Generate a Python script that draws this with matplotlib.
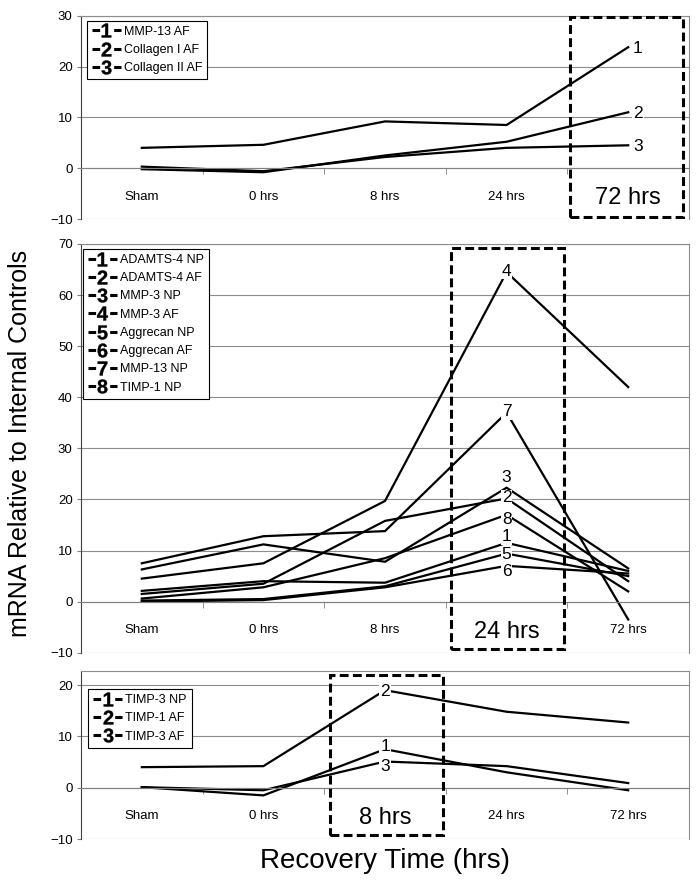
import matplotlib.pyplot as plt
from matplotlib.lines import Line2D
from matplotlib.patches import Rectangle

plt.rcParams['font.family'] = ['Liberation Sans', 'DejaVu Sans']
plt.rcParams['mathtext.fontset'] = 'custom'
plt.rcParams['mathtext.rm'] = 'Liberation Sans'
plt.rcParams['mathtext.bf'] = 'Liberation Sans:bold'

# categories on the x axis
categories = ['Sham', '0 hrs', '8 hrs', '24 hrs', '72 hrs']

# top panel
top_names = ['MMP-13 AF', 'Collagen I AF', 'Collagen II AF']
top_mmp13_af = [4.0, 4.6, 9.2, 8.5, 23.8]
top_col1_af = [-0.2, -0.8, 2.5, 5.2, 11.0]
top_col2_af = [0.3, -0.6, 2.2, 4.0, 4.5]

# middle panel
mid_names = ['ADAMTS-4 NP', 'ADAMTS-4 AF', 'MMP-3 NP', 'MMP-3 AF',
             'Aggrecan NP', 'Aggrecan AF', 'MMP-13 NP', 'TIMP-1 NP']
mid_adamts4_np = [2.1, 4.0, 3.7, 11.5, 6.0]
mid_adamts4_af = [1.5, 3.5, 15.8, 20.2, 4.0]
mid_mmp3_np = [6.3, 11.2, 7.8, 22.3, 6.5]
mid_mmp3_af = [4.5, 7.5, 19.7, 64.5, 42.0]
mid_aggrecan_np = [0.2, 0.5, 3.0, 9.4, 5.0]
mid_aggrecan_af = [0.0, 0.3, 2.8, 7.0, 5.5]
mid_mmp13_np = [7.5, 12.8, 13.8, 37.0, -3.5]
mid_timp1_np = [0.6, 2.8, 8.5, 17.0, 2.0]

# bottom panel
bot_names = ['TIMP-3 NP', 'TIMP-1 AF', 'TIMP-3 AF']
bot_timp3_np = [0.1, -1.5, 7.5, 3.0, -0.5]
bot_timp1_af = [4.0, 4.2, 19.0, 14.8, 12.7]
bot_timp3_af = [0.1, -0.5, 5.1, 4.2, 0.9]

W, H = 698, 881
fig = plt.figure(figsize=(W / 100, H / 100), dpi=100)

left = 81 / W
width = (689 - 81) / W


def px_axes(top_px, bottom_px):
    return fig.add_axes([left, 1 - bottom_px / H, width, (bottom_px - top_px) / H])


def handle(n):
    return Line2D([], [], color='black', lw=2.2, linestyle=(0, (2.5, 4.6)),
                  marker=r'$\mathbf{%d}$' % n, markersize=10,
                  markerfacecolor='black', markeredgecolor='black', markeredgewidth=0.3)


def panel(ax, series, names, ylim, box, focus, lab_at, lab_dx, lab_dy, leg_anchor):
    ax.set_xlim(-0.5, 4.5)
    ax.set_ylim(*ylim)
    ax.set_yticks(range(-10, int(ylim[1]) + 1, 10))
    ax.set_axisbelow(True)
    ax.grid(axis='y', color='#8c8c8c', lw=0.8)
    for s in ['top', 'right']:
        ax.spines[s].set_color('#8c8c8c')
    ax.spines['left'].set_color('#404040')
    ax.spines['bottom'].set_position(('data', 0))
    ax.spines['bottom'].set_color('#808080')
    ax.set_xticks(range(5))
    ax.set_xticklabels([])
    ax.tick_params(axis='x', which='major', length=0)
    ax.set_xticks([-0.5, 0.5, 1.5, 2.5, 3.5, 4.5], minor=True)
    ax.tick_params(axis='x', which='minor', length=4, color='#808080', direction='out')
    ax.tick_params(axis='y', length=3, color='#808080', labelsize=9.5, pad=3)

    x = list(range(len(categories)))
    for vals in series:
        ax.plot(x, vals, color='black', lw=1.6, solid_joinstyle='miter')

    for i, c in enumerate(categories):
        if i == focus:
            ax.text(i, -5.9, c, ha='center', va='center', fontsize=17)
        else:
            ax.text(i, -5.6, c, ha='center', va='center', fontsize=9.5)

    for k, vals in enumerate(series):
        ax.text(lab_at + lab_dx, vals[lab_at] + lab_dy[k], str(k + 1), ha='center', va='center',
                fontsize=12.5, zorder=5,
                bbox=dict(boxstyle='square,pad=0.05', fc='white', ec='none'))

    ax.add_patch(Rectangle((box[0], box[2]), box[1] - box[0], box[3] - box[2], fill=False,
                           ec='black', lw=2.2, linestyle=(0, (2.9, 1.4)), zorder=6))

    leg = ax.legend([handle(k + 1) for k in range(len(names))], names, loc='upper left',
                    bbox_to_anchor=leg_anchor, borderaxespad=0, fontsize=9,
                    handlelength=2.3, handletextpad=0.25, labelspacing=0.5,
                    borderpad=0.4, fancybox=False, framealpha=1, edgecolor='black')
    leg.get_frame().set_linewidth(0.8)
    leg.set_zorder(7)


ax1 = px_axes(15.7, 219)
panel(ax1, [top_mmp13_af, top_col1_af, top_col2_af], top_names, (-10, 30),
      (3.52, 4.45, -9.7, 29.7), 4, 4, 0.08, [-0.2, -0.2, -0.3], (0.0095, 0.975))

ax2 = px_axes(244, 652.7)
panel(ax2, [mid_adamts4_np, mid_adamts4_af, mid_mmp3_np, mid_mmp3_af,
            mid_aggrecan_np, mid_aggrecan_af, mid_mmp13_np, mid_timp1_np], mid_names, (-10, 70),
      (2.54, 3.47, -9.35, 69.15), 3, 3, 0.0, [1.2, 0.1, 1.9, 0.2, -0.1, -1.1, 0.2, -0.9],
      (0.003, 0.988))

ax3 = px_axes(670.7, 839)
panel(ax3, [bot_timp3_np, bot_timp1_af, bot_timp3_af], bot_names, (-10, 22.8),
      (1.55, 2.48, -9.2, 21.95), 2, 2, 0.0, [0.6, -0.2, -0.9], (0.012, 0.89))

fig.text(0.029, 1 - 443 / H, 'mRNA Relative to Internal Controls', rotation=90,
         ha='center', va='center', fontsize=18)
fig.text(left + width / 2, 1 - 861 / H, 'Recovery Time (hrs)', ha='center', va='center',
         fontsize=20)

fig.savefig('out.png', dpi=100)
